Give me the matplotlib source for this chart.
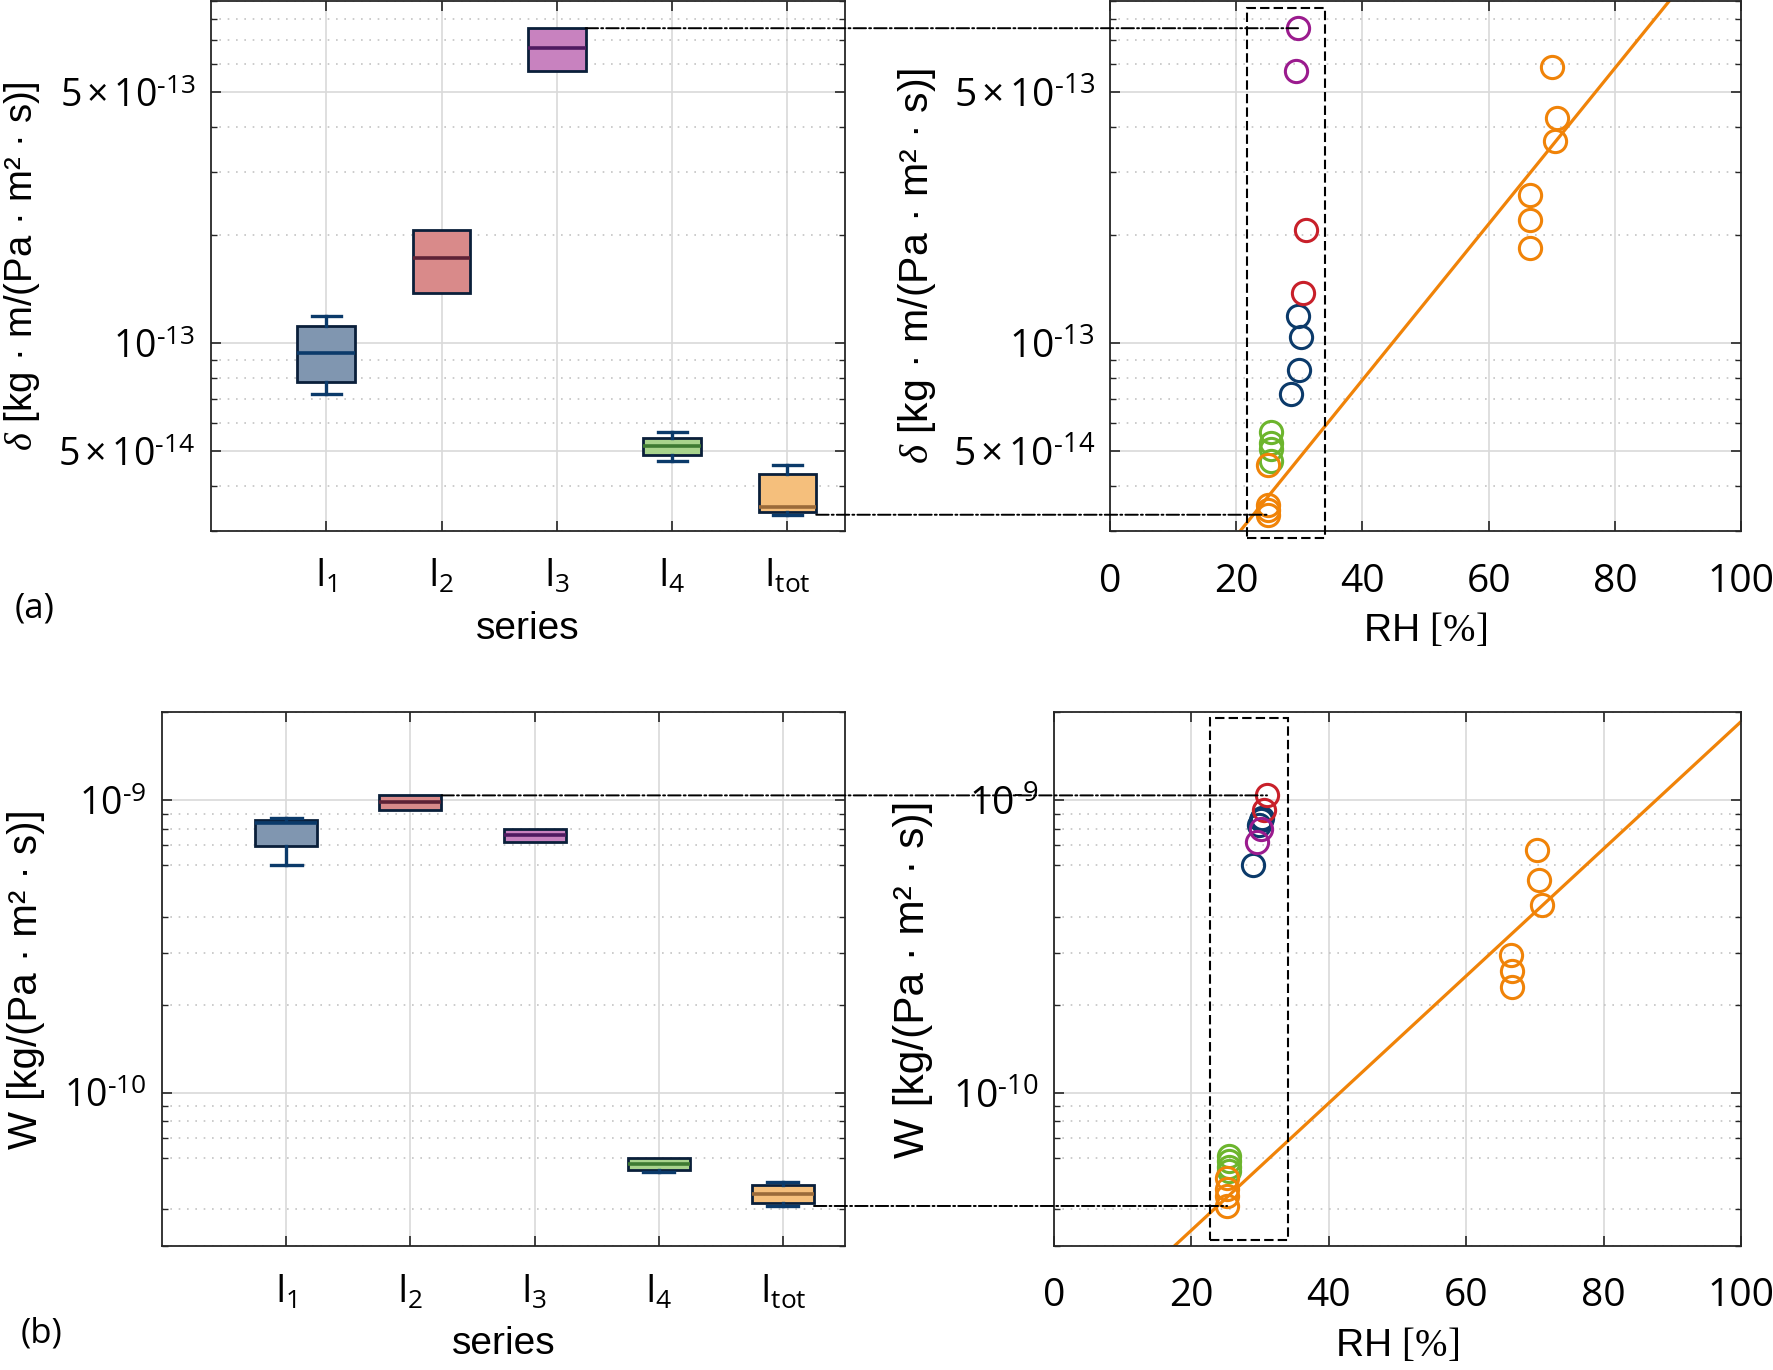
import matplotlib
matplotlib.use("Agg")
import numpy as np
import matplotlib.pyplot as plt
from matplotlib.patches import Rectangle, ConnectionPatch
from matplotlib.ticker import FixedLocator, FixedFormatter, LogLocator, NullFormatter

plt.rcParams["font.family"] = ["Liberation Sans", "DejaVu Sans"]
plt.rcParams["mathtext.fontset"] = "custom"
plt.rcParams["mathtext.rm"] = "Open Sans"
plt.rcParams["mathtext.it"] = "Liberation Serif:italic"
plt.rcParams["mathtext.tt"] = "Liberation Serif"

# --- DATA ---
series_labels = [r"$\mathrm{I_{1}}$", r"$\mathrm{I_{2}}$", r"$\mathrm{I_{3}}$",
                 r"$\mathrm{I_{4}}$", r"$\mathrm{I_{tot}}$"]
positions = [1, 2, 3, 4, 5]

# box statistics, vapour permeability delta [kg m/(Pa m2 s)]
d_whislo = [0.721e-13, 1.38e-13, 5.75e-13, 4.71e-14, 3.33e-14]
d_q1     = [0.780e-13, 1.38e-13, 5.75e-13, 4.89e-14, 3.39e-14]
d_med    = [0.941e-13, 1.73e-13, 6.64e-13, 5.17e-14, 3.50e-14]
d_q3     = [1.12e-13, 2.07e-13, 7.55e-13, 5.46e-14, 4.32e-14]
d_whishi = [1.19e-13, 2.07e-13, 7.55e-13, 5.65e-14, 4.59e-14]

# box statistics, vapour permeance W [kg/(Pa m2 s)]
w_whislo = [0.600e-9, 0.923e-9, 0.720e-9, 5.38e-11, 4.11e-11]
w_q1     = [0.698e-9, 0.923e-9, 0.720e-9, 5.47e-11, 4.21e-11]
w_med    = [0.835e-9, 0.983e-9, 0.759e-9, 5.72e-11, 4.50e-11]
w_q3     = [0.853e-9, 1.038e-9, 0.795e-9, 6.00e-11, 4.84e-11]
w_whishi = [0.872e-9, 1.038e-9, 0.795e-9, 6.00e-11, 4.97e-11]

# scatter vs relative humidity
rh_d = {
    "I1": [29.8, 30.2, 29.9, 28.7],
    "I2": [31.0, 30.5],
    "I3": [29.8, 29.4],
    "I4": [25.5, 25.5, 25.5, 25.5],
    "Itot": [25.1, 25.1, 25.1, 25.1, 70.1, 70.8, 70.5, 66.5, 66.5, 66.6],
}
delta_pts = {
    "I1": [1.19e-13, 1.04e-13, 0.843e-13, 0.721e-13],
    "I2": [2.07e-13, 1.38e-13],
    "I3": [7.55e-13, 5.73e-13],
    "I4": [5.65e-14, 5.27e-14, 5.07e-14, 4.71e-14],
    "Itot": [4.59e-14, 3.54e-14, 3.43e-14, 3.32e-14,
             5.89e-13, 4.25e-13, 3.66e-13, 2.59e-13, 2.21e-13, 1.84e-13],
}
rh_w = {
    "I1": [30.3, 30.1, 29.9, 28.9],
    "I2": [31.0, 30.6],
    "I3": [30.1, 29.6],
    "I4": [25.4, 25.4, 25.4, 25.4],
    "Itot": [25.2, 25.2, 25.2, 25.2, 70.3, 70.6, 71.0, 66.5, 66.6, 66.7],
}
w_pts = {
    "I1": [0.872e-9, 0.853e-9, 0.820e-9, 0.600e-9],
    "I2": [1.04e-9, 0.925e-9],
    "I3": [0.795e-9, 0.718e-9],
    "I4": [6.10e-11, 5.85e-11, 5.60e-11, 5.42e-11],
    "Itot": [5.13e-11, 4.68e-11, 4.44e-11, 4.10e-11,
             6.77e-10, 5.35e-10, 4.40e-10, 2.95e-10, 2.60e-10, 2.30e-10],
}

# exponential fits  y = a * exp(b * RH)
fit_d = (1.07e-14, 0.050)
fit_w = (1.25e-11, 0.050)

# dashed selection boxes (RH range, value range)
sel_d = (21.7, 34.0, 2.86e-14, 8.6e-13)
sel_w = (22.7, 34.0, 3.14e-11, 1.91e-9)

names = ["I1", "I2", "I3", "I4", "Itot"]
pt_colors = ["#0b3a6a", "#c8202a", "#9b1b8e", "#6cb52d", "#f08308"]
box_fill = ["#8096b0", "#d98a8a", "#c882bf", "#a8d38c", "#f5bf7c"]
med_colors = ["#0b3a6a", "#5e2236", "#4e1a60", "#3e7a32", "#9a6a3a"]

# --- FIGURE ---
fig = plt.figure(figsize=(17.73, 13.70), dpi=100)
ax_tl = fig.add_axes([0.1190, 0.6124, 0.3576, 0.3870])
ax_tr = fig.add_axes([0.6261, 0.6124, 0.3559, 0.3870])
ax_bl = fig.add_axes([0.0914, 0.0905, 0.3852, 0.3898])
ax_br = fig.add_axes([0.5945, 0.0905, 0.3875, 0.3898])

spine_c = "#262626"


def style(ax, tsize, xpad):
    for s in ax.spines.values():
        s.set_color(spine_c)
        s.set_linewidth(1.3)
    ax.tick_params(which="both", direction="in", top=True, right=True,
                   color=spine_c, labelcolor="black")
    ax.tick_params(which="major", length=7, width=1.2, labelsize=tsize, pad=11)
    ax.tick_params(which="minor", length=4, width=1.0)
    ax.tick_params(axis="x", which="major", pad=xpad)
    ax.set_axisbelow(True)
    ax.grid(True, which="major", color="#d9d9d9", lw=1.2, ls="-")
    ax.grid(True, which="minor", axis="y", color="#c4c4c4", lw=1.2, ls=(0, (1, 4)))
    for lab in ax.get_xticklabels() + ax.get_yticklabels():
        lab.set_fontfamily("Open Sans")


def log_ticks(ax, major, labels, lim):
    ax.set_yscale("log")
    ax.set_ylim(*lim)
    ax.yaxis.set_major_locator(FixedLocator(major))
    ax.yaxis.set_major_formatter(FixedFormatter(labels))
    ax.yaxis.set_minor_locator(LogLocator(base=10, subs=[2, 3, 4, 6, 7, 8, 9]))
    ax.yaxis.set_minor_formatter(NullFormatter())


def boxes(ax, lo, q1, med, q3, hi):
    stats = []
    for i in range(len(positions)):
        stats.append(dict(whislo=lo[i], q1=q1[i], med=med[i], q3=q3[i], whishi=hi[i]))
    bp = ax.bxp(stats, positions=positions, widths=0.5, capwidths=0.25,
                patch_artist=True, showfliers=False,
                boxprops=dict(edgecolor="#0a1f3a", linewidth=2.0),
                whiskerprops=dict(color="#0b3a6a", linewidth=2.4),
                capprops=dict(color="#0b3a6a", linewidth=2.4),
                medianprops=dict(linewidth=2.6))
    for i, patch in enumerate(bp["boxes"]):
        patch.set_facecolor(box_fill[i])
        bp["medians"][i].set_color(med_colors[i])
        if lo[i] == q1[i]:
            bp["whiskers"][2 * i].set_visible(False)
            bp["caps"][2 * i].set_visible(False)
        if hi[i] == q3[i]:
            bp["whiskers"][2 * i + 1].set_visible(False)
            bp["caps"][2 * i + 1].set_visible(False)
    ax.set_xlim(0, 5.5)
    ax.set_xticks(positions, series_labels)


def scatter_panel(ax, rh, vals, fit, sel):
    rh_line = np.array([0.0, 100.0])
    ax.plot(rh_line, fit[0] * np.exp(fit[1] * rh_line), color="#f08308", lw=2.3, zorder=2)
    for name, c in zip(names, pt_colors):
        ax.plot(rh[name], vals[name], ls="none", marker="o", ms=16, mfc="none",
                mec=c, mew=2.2, zorder=3)
    ax.add_patch(Rectangle((sel[0], sel[2]), sel[1] - sel[0], sel[3] - sel[2],
                           fill=False, ec="black", lw=1.5, ls=(0, (4.5, 2)),
                           clip_on=False, zorder=4))
    ax.set_xlim(0, 100)
    ax.set_xticks([0, 20, 40, 60, 80, 100])


# top row: delta
boxes(ax_tl, d_whislo, d_q1, d_med, d_q3, d_whishi)
scatter_panel(ax_tr, rh_d, delta_pts, fit_d, sel_d)
d_major = [5e-14, 1e-13, 5e-13]
d_labels = [r"$5\times10^{‐14}$", r"$10^{‐13}$", r"$5\times10^{‐13}$"]
for ax in (ax_tl, ax_tr):
    log_ticks(ax, d_major, d_labels, (3e-14, 9e-13))

# bottom row: W
boxes(ax_bl, w_whislo, w_q1, w_med, w_q3, w_whishi)
scatter_panel(ax_br, rh_w, w_pts, fit_w, sel_w)
for ax in (ax_bl, ax_br):
    log_ticks(ax, [1e-10, 1e-9], [r"$10^{‐10}$", r"$10^{‐9}$"], (3e-11, 2e-9))

style(ax_tl, 27, 19)
style(ax_tr, 28, 23)
style(ax_bl, 27, 20)
style(ax_br, 28, 22)

# --- LABELS ---
for ax in (ax_tl, ax_bl):
    ax.set_xlabel("series", fontsize=28)
for ax in (ax_tr, ax_br):
    ax.set_xlabel(r"RH $\mathtt{[\%]}$", fontsize=28)

ax_tl.set_ylabel(r"$\delta$ [kg · m/(Pa · m² · s)]", fontsize=27.5)
ax_tr.set_ylabel(r"$\delta$ [kg · m/(Pa · m² · s)]", fontsize=29.5)
ax_bl.set_ylabel("W [kg/(Pa · m² · s)]", fontsize=29)
ax_br.set_ylabel("W [kg/(Pa · m² · s)]", fontsize=30.5)

ax_tl.yaxis.set_label_coords(-0.2666, 0.5)
ax_tr.yaxis.set_label_coords(-0.2726, 0.5)
ax_bl.yaxis.set_label_coords(-0.171, 0.5)
ax_br.yaxis.set_label_coords(-0.176, 0.5)
for ax in (ax_tl, ax_tr, ax_bl, ax_br):
    ax.xaxis.set_label_coords(0.5, -0.15)

fig.text(35 / 1773, 1 - 608 / 1370, "(a)", ha="center", va="center",
         fontsize=25, family="Open Sans")
fig.text(42 / 1773, 1 - 1334 / 1370, "(b)", ha="center", va="center",
         fontsize=25, family="Open Sans")

# --- DASH-DOT LINKS BETWEEN BOX PLOTS AND SCATTER ---
links = [
    (ax_tl, ax_tr, positions[2] + 0.25, d_q3[2], rh_d["I3"][0]),
    (ax_tl, ax_tr, positions[4] + 0.25, d_whislo[4], rh_d["Itot"][0]),
    (ax_bl, ax_br, positions[1] + 0.25, w_q3[1], rh_w["I2"][0]),
    (ax_bl, ax_br, positions[4] + 0.25, w_whislo[4], rh_w["Itot"][0]),
]
for a_box, a_sc, x0, yv, x1 in links:
    con = ConnectionPatch(xyA=(x0, yv), coordsA=a_box.transData,
                          xyB=(x1, yv), coordsB=a_sc.transData,
                          color="black", lw=1.4, ls="-.", shrinkA=0, shrinkB=0)
    fig.add_artist(con)

fig.savefig("out.png", dpi=100)
